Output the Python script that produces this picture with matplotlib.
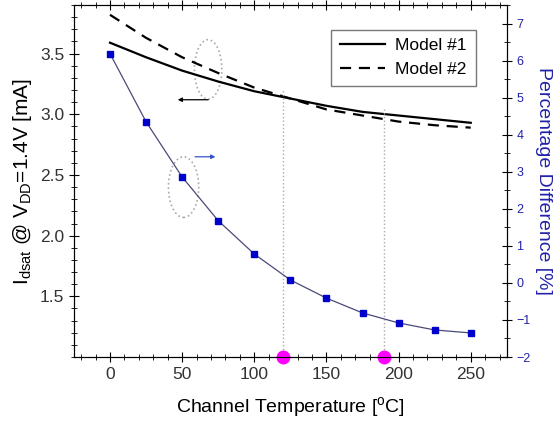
import matplotlib.pyplot as plt
from matplotlib.patches import Ellipse
from matplotlib.ticker import MultipleLocator

plt.rcParams['font.family'] = ['Liberation Sans', 'DejaVu Sans']
plt.rcParams['mathtext.fontset'] = 'custom'
plt.rcParams['mathtext.rm'] = 'Liberation Sans'

# data
temp = [0, 25, 50, 75, 100, 125, 150, 175, 200, 225, 250]
model1 = [3.59, 3.47, 3.36, 3.27, 3.19, 3.13, 3.07, 3.02, 2.99, 2.96, 2.93]
model2 = [3.82, 3.63, 3.47, 3.34, 3.22, 3.13, 3.04, 2.99, 2.94, 2.91, 2.89]
pct_diff = [6.19, 4.35, 2.86, 1.68, 0.78, 0.08, -0.41, -0.81, -1.08, -1.27, -1.35]
mark_temp = [120, 190]
mark_top = [3.2, 3.05]

fig = plt.figure(figsize=(5.6, 4.24), dpi=100)
ax = fig.add_axes([0.132, 0.158, 0.773, 0.830])
ax2 = ax.twinx()

# left axis: the two models
ax.plot(temp, model1, color='black', lw=1.6, label='Model #1')
ax.plot(temp, model2, color='black', lw=1.6, ls=(0, (5, 3.5)), label='Model #2')

# right axis: percentage difference
ax2.plot(temp, pct_diff, color='#4a4a7a', lw=0.9, marker='s', ms=5,
         mfc='#0000cc', mec='#0000cc')

# vertical guide lines and magenta dots
for t, top in zip(mark_temp, mark_top):
    ax.plot([t, t], [1.0, top], color='#aaaaaa', lw=1, ls=':')
    ax.plot(t, 1.0, 'o', color='#ff00ff', ms=9, clip_on=False, zorder=5)

# annotation ellipses and arrows
ax.add_patch(Ellipse((68, 3.37), 19, 0.49, fill=False, ec='#aaaaaa', ls=':', lw=1.2))
ax.annotate('', xy=(45, 3.12), xytext=(70, 3.12),
            arrowprops=dict(arrowstyle='-|>', color='black', lw=0.9, mutation_scale=6))
ax.add_patch(Ellipse((51, 2.40), 21, 0.5, fill=False, ec='#aaaaaa', ls=':', lw=1.2))
ax.annotate('', xy=(75, 2.65), xytext=(57, 2.65),
            arrowprops=dict(arrowstyle='-|>', color='#3355cc', lw=0.9, mutation_scale=6))

ax.set_xlim(-25, 275)
ax.set_ylim(1.0, 3.9)
ax2.set_ylim(-2, 7.5)

ax.xaxis.set_major_locator(MultipleLocator(50))
ax.xaxis.set_minor_locator(MultipleLocator(10))
ax.set_yticks([1.5, 2.0, 2.5, 3.0, 3.5])
ax.yaxis.set_minor_locator(MultipleLocator(0.1))
ax2.yaxis.set_major_locator(MultipleLocator(1))
ax2.yaxis.set_minor_locator(MultipleLocator(0.5))

ax.tick_params(which='both', direction='inout', top=True, right=False,
               labelsize=12.5, labelcolor='#333333')
ax.tick_params(which='major', length=7)
ax.tick_params(which='minor', length=4)
ax2.tick_params(which='both', direction='inout', labelsize=9, labelcolor='#2222aa')
ax2.tick_params(which='major', length=7)
ax2.tick_params(which='minor', length=4)

ax.set_xlabel('Channel Temperature [$^{\\mathrm{o}}$C]', fontsize=14, labelpad=10)
ax.set_ylabel('I$_{\\mathrm{dsat}}$ @ V$_{\\mathrm{DD}}$=1.4V [mA]', fontsize=15)
ax2.set_ylabel('Percentage Difference [%]', fontsize=14, color='#2222aa',
               rotation=270, labelpad=15)

leg = ax.legend(loc='upper right', fontsize=12.5, fancybox=False, edgecolor='#555555',
                handlelength=2.6, handletextpad=0.6, borderpad=0.5,
                bbox_to_anchor=(0.948, 0.955))
leg.get_frame().set_linewidth(1.0)

fig.savefig('out.png', dpi=100)
